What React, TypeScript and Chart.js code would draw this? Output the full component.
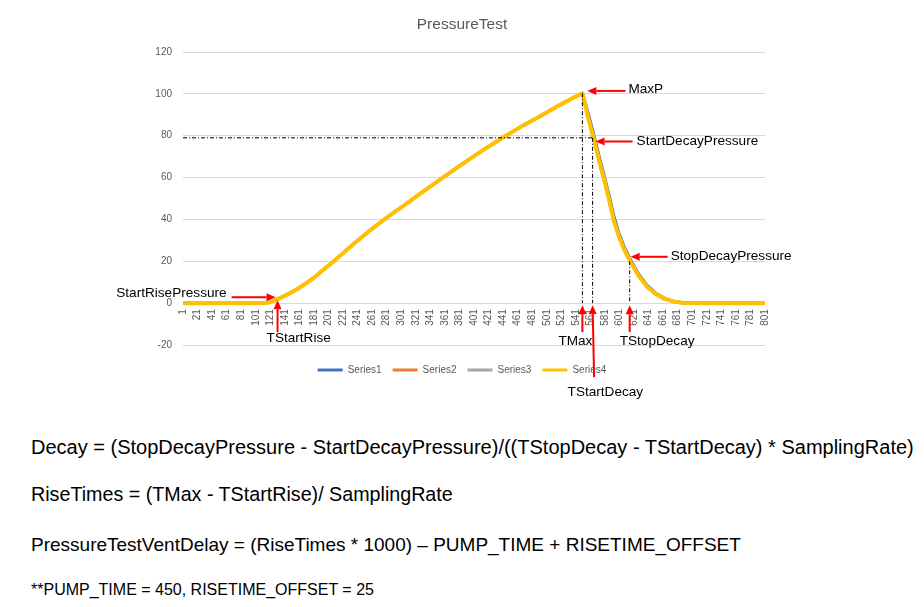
import React, { useEffect, useRef } from 'react';
import { Chart, registerables } from 'chart.js';

Chart.register(...registerables);

// ---------- data ----------
const sampleTimes = [
  1, 21, 41, 61, 81, 101, 114, 120, 127, 134, 141, 149, 157, 165, 173, 180, 191,
  203, 215, 226, 240, 255, 270, 288, 304, 327, 350, 373, 396, 419, 442, 465, 488,
  502, 515, 525, 534, 542, 550, 558, 566, 573, 580, 587, 593, 600, 608, 616,
  627, 639, 650, 662, 676, 690, 720, 760, 801,
];

const series1Values = [
  0, 0, 0, 0, 0, 0, 0.1, 0.4, 1.3, 2.4, 3.6, 5.0, 6.5, 8.3, 10.2, 11.9, 15.1,
  18.5, 22.1, 25.4, 29.6, 33.9, 38.0, 42.6, 46.5, 52.3, 58.0, 63.6, 69.1, 74.4, 79.4, 84.2, 88.6,
  91.3, 94.0, 95.8, 97.5, 98.9, 100.3, 90.7, 80.0, 70.1, 60.9, 51.1, 42.0, 33.6, 26.5, 20.8,
  14.1, 8.5, 5.0, 2.5, 0.85, 0.15, 0, 0, 0,
];

const series2Values = [
  0, 0, 0, 0, 0, 0, 0.1, 0.4, 1.3, 2.4, 3.6, 5.0, 6.5, 8.3, 10.2, 11.9, 15.1,
  18.5, 22.1, 25.4, 29.6, 33.9, 38.0, 42.6, 46.5, 52.3, 58.0, 63.6, 69.1, 74.4, 79.4, 84.2, 88.6,
  91.3, 94.0, 95.8, 97.5, 98.9, 100.3, 88.5, 78.0, 68.0, 58.9, 49.0, 39.7, 32.0, 25.2, 19.8,
  13.2, 7.8, 4.6, 2.2, 0.7, 0.1, 0, 0, 0,
];

const series3Values = [
  0, 0, 0, 0, 0, 0, 0.1, 0.4, 1.3, 2.4, 3.6, 5.0, 6.5, 8.3, 10.2, 11.9, 15.1,
  18.5, 22.1, 25.4, 29.6, 33.9, 38.0, 42.6, 46.5, 52.3, 58.0, 63.6, 69.1, 74.4, 79.4, 84.2, 88.6,
  91.3, 94.0, 95.8, 97.5, 98.9, 100.3, 88.5, 78.0, 68.0, 58.9, 49.0, 39.7, 32.0, 25.2, 19.8,
  13.2, 7.8, 4.6, 2.2, 0.7, 0.1, 0, 0, 0,
];

const series4Values = [
  0, 0, 0, 0, 0, 0, 0.1, 0.4, 1.3, 2.4, 3.6, 5.0, 6.5, 8.3, 10.2, 11.9, 15.1,
  18.5, 22.1, 25.4, 29.6, 33.9, 38.0, 42.6, 46.5, 52.3, 58.0, 63.6, 69.1, 74.4, 79.4, 84.2, 88.6,
  91.3, 94.0, 95.8, 97.5, 98.9, 100.3, 88.5, 78.0, 68.0, 58.9, 49.0, 39.7, 32.0, 25.2, 19.8,
  13.2, 7.8, 4.6, 2.2, 0.7, 0.1, 0, 0, 0,
];

const seriesNames = ['Series1', 'Series2', 'Series3', 'Series4'];

const xTickLabels = [
  1, 21, 41, 61, 81, 101, 121, 141, 161, 181, 201, 221, 241, 261, 281, 301, 321,
  341, 361, 381, 401, 421, 441, 461, 481, 501, 521, 541, 561, 581, 601, 621, 641,
  661, 681, 701, 721, 741, 761, 781, 801,
];

const yTickValues = [-20, 0, 20, 40, 60, 80, 100, 120];

// annotation markers: TStartRise, TMax, TStartDecay, TStopDecay
const timeMarkerNames = ['TStartRise', 'TMax', 'TStartDecay', 'TStopDecay'];
const timeMarkerValues = [131, 550, 564, 615];
// pressure markers: StartRisePressure, MaxP, StartDecayPressure, StopDecayPressure
const pressureMarkerNames = ['StartRisePressure', 'MaxP', 'StartDecayPressure', 'StopDecayPressure'];
const pressureMarkerValues = [2, 100.3, 79, 20];

const chartTitle = 'PressureTest';

const formulaLines = [
  'Decay = (StopDecayPressure - StartDecayPressure)/((TStopDecay - TStartDecay) * SamplingRate)',
  'RiseTimes = (TMax - TStartRise)/ SamplingRate',
  'PressureTestVentDelay = (RiseTimes * 1000) \u2013 PUMP_TIME + RISETIME_OFFSET',
  '**PUMP_TIME = 450, RISETIME_OFFSET = 25',
];

// ---------- styles ----------
const seriesColors = ['#4472C4', '#ED7D31', '#A5A5A5', '#FFC000'];
const seriesWidths = [3, 3, 3, 4];
const seriesOrder = [3, 2, 1, 0];
const formulaLayout = [
  { center: 447, size: 20 },
  { center: 494, size: 19.7 },
  { center: 545, size: 19 },
  { center: 590, size: 16 },
];

const FONT = '"Liberation Sans", Arial, sans-serif';
const GRAY = '#595959';

function drawArrow(ctx: CanvasRenderingContext2D, x1: number, y1: number, x2: number, y2: number) {
  const ang = Math.atan2(y2 - y1, x2 - x1);
  const head = 9;
  const half = 4;
  const bx = x2 - head * Math.cos(ang);
  const by = y2 - head * Math.sin(ang);
  ctx.save();
  ctx.strokeStyle = '#FF0000';
  ctx.fillStyle = '#FF0000';
  ctx.lineWidth = 2;
  ctx.setLineDash([]);
  ctx.beginPath();
  ctx.moveTo(x1, y1);
  ctx.lineTo(bx, by);
  ctx.stroke();
  ctx.beginPath();
  ctx.moveTo(x2, y2);
  ctx.lineTo(bx + half * Math.sin(ang), by - half * Math.cos(ang));
  ctx.lineTo(bx - half * Math.sin(ang), by + half * Math.cos(ang));
  ctx.closePath();
  ctx.fill();
  ctx.restore();
}

const annotationPlugin = {
  id: 'pressureAnnotations',
  afterDatasetsDraw(chart: any) {
    const { ctx, chartArea } = chart;
    const xs = chart.scales.x;
    const ys = chart.scales.y;
    const [tRise, tMax, tDecay, tStop] = timeMarkerValues.map((v) => xs.getPixelForValue(v));
    const [pRise, pMax, pDecay, pStop] = pressureMarkerValues.map((v) => ys.getPixelForValue(v));
    const y0 = ys.getPixelForValue(0);

    // dash-dot guide lines
    ctx.save();
    ctx.strokeStyle = '#000000';
    ctx.lineWidth = 1;
    ctx.setLineDash([4, 2, 1, 2]);
    const seg = (a: number, b: number, c: number, d: number) => {
      ctx.beginPath();
      ctx.moveTo(a, b);
      ctx.lineTo(c, d);
      ctx.stroke();
    };
    seg(chartArea.left, pDecay, tDecay, pDecay);
    seg(tMax, pMax, tMax, y0);
    seg(tDecay, pDecay, tDecay, y0);
    seg(tStop, pStop, tStop, y0);
    ctx.restore();

    // vertical arrows (time markers)
    drawArrow(ctx, tRise, y0 + 29, tRise, y0 - 3);
    drawArrow(ctx, tMax, y0 + 29, tMax, y0 + 2);
    drawArrow(ctx, tDecay + 1.5, y0 + 74, tDecay, y0 + 2);
    drawArrow(ctx, tStop, y0 + 29, tStop, y0 + 2);

    // horizontal arrows (pressure markers)
    drawArrow(ctx, tRise - 46, pRise - 1.6, tRise - 2, pRise - 1.6);
    drawArrow(ctx, tMax + 43, pMax - 2.3, tMax + 5, pMax - 2.3);
    drawArrow(ctx, tDecay + 40, pDecay + 3.7, tDecay + 3, pDecay + 3.7);
    drawArrow(ctx, tStop + 38, pStop - 4.5, tStop + 1, pStop - 4.5);

    // labels
    ctx.save();
    ctx.font = '13.6px ' + FONT;
    ctx.fillStyle = '#000000';
    ctx.textBaseline = 'middle';
    ctx.textAlign = 'left';
    ctx.fillText(timeMarkerNames[0], tRise - 11, y0 + 35);
    ctx.fillText(timeMarkerNames[1], tMax - 24, y0 + 38.5);
    ctx.fillText(timeMarkerNames[2], tDecay - 25, y0 + 89.5);
    ctx.fillText(timeMarkerNames[3], tStop - 10, y0 + 38.5);
    ctx.fillText(pressureMarkerNames[1], tMax + 46, pMax - 3.5);
    ctx.fillText(pressureMarkerNames[2], tDecay + 44, pDecay + 3.1);
    ctx.fillText(pressureMarkerNames[3], tStop + 41, pStop - 5.2);
    ctx.textAlign = 'right';
    ctx.fillText(pressureMarkerNames[0], tRise - 51, pRise - 6.2);
    ctx.restore();
  },
};

export default function App() {
  const ref = useRef<HTMLCanvasElement>(null);

  useEffect(() => {
    if (!ref.current) return;
    const allValues = [series1Values, series2Values, series3Values, series4Values];
    const datasets = seriesNames.map((name, i) => ({
      label: name,
      data: sampleTimes.map((t, k) => ({ x: t, y: allValues[i][k] })),
      borderColor: seriesColors[i],
      backgroundColor: seriesColors[i],
      borderWidth: seriesWidths[i],
      pointRadius: 0,
      tension: 0,
      order: seriesOrder[i],
      borderJoinStyle: 'round' as const,
      yAxisID: 'y',
      xAxisID: 'x',
    }));

    const chart = new Chart(ref.current, {
      type: 'line',
      data: { datasets },
      options: {
        animation: false,
        responsive: false,
        devicePixelRatio: 1,
        layout: { padding: { left: 143, right: 143, top: 0, bottom: 25 } },
        plugins: {
          title: {
            display: true,
            text: chartTitle,
            color: GRAY,
            font: { family: FONT, size: 15.5, weight: 'normal', lineHeight: 1.2 },
            padding: { top: 15.7, bottom: 17.7 },
          },
          legend: {
            display: true,
            position: 'bottom',
            title: { display: true, text: '', padding: { top: 0, bottom: 0 }, font: { size: 7.5, lineHeight: 1.2 } },
            labels: {
              boxWidth: 25,
              boxHeight: 3,
              padding: 11,
              color: GRAY,
              font: { family: FONT, size: 10 },
              sort: (a: any, b: any) => a.datasetIndex - b.datasetIndex,
              generateLabels: (c: any) =>
                Chart.defaults.plugins.legend.labels.generateLabels(c).map((l: any) => ({
                  ...l,
                  lineWidth: 0,
                  strokeStyle: 'rgba(0,0,0,0)',
                })),
            },
          },
          tooltip: { enabled: false },
        },
        scales: {
          x: {
            type: 'linear',
            axis: 'x',
            position: { y: 0 } as any,
            min: xTickLabels[0],
            max: xTickLabels[xTickLabels.length - 1],
            afterBuildTicks: (scale: any) => {
              scale.ticks = xTickLabels.map((v) => ({ value: v }));
            },
            grid: { display: false, drawTicks: false },
            border: { display: false },
            ticks: {
              autoSkip: false,
              minRotation: 90,
              maxRotation: 90,
              padding: 6,
              color: GRAY,
              font: { family: FONT, size: 10 },
              callback: (v: any) => String(v),
            },
          },
          y: {
            type: 'linear',
            position: 'left',
            min: yTickValues[0],
            max: yTickValues[yTickValues.length - 1],
            afterBuildTicks: (scale: any) => {
              scale.ticks = yTickValues.map((v) => ({ value: v }));
            },
            afterFit: (scale: any) => {
              scale.width = 40;
            },
            grid: { color: '#D9D9D9', lineWidth: 1, drawTicks: false },
            border: { display: false },
            ticks: {
              padding: 11,
              color: GRAY,
              font: { family: FONT, size: 10 },
            },
          },
          yRightSpacer: {
            type: 'linear',
            position: 'right',
            display: true,
            min: 0,
            max: 1,
            afterFit: (scale: any) => {
              scale.width = 16;
            },
            grid: { display: false, drawTicks: false },
            border: { display: false },
            ticks: { display: false },
          },
        },
      },
      plugins: [annotationPlugin],
    } as any);

    return () => chart.destroy();
  }, []);

  return (
    <div
      style={{
        position: 'absolute',
        left: 0,
        top: 0,
        width: 924,
        height: 607,
        background: '#ffffff',
        overflow: 'hidden',
      }}
    >
      <canvas ref={ref} width={924} height={410} style={{ position: 'absolute', left: 0, top: 0 }} />
      {formulaLines.map((line, i) => (
        <div
          key={i}
          style={{
            position: 'absolute',
            left: 31,
            top: formulaLayout[i].center - 12,
            height: 24,
            lineHeight: '24px',
            fontFamily: FONT,
            fontSize: formulaLayout[i].size,
            color: '#000000',
            whiteSpace: 'nowrap',
          }}
        >
          {line}
        </div>
      ))}
    </div>
  );
}
